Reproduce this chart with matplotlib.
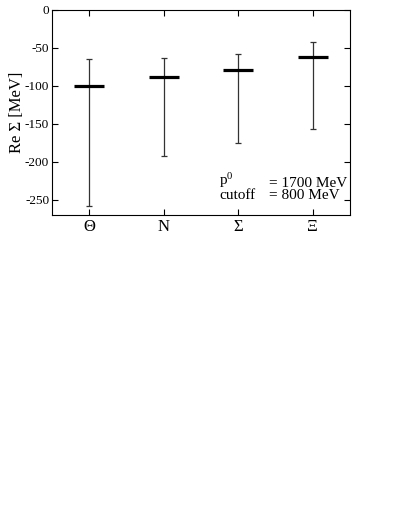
import matplotlib
matplotlib.use("Agg")
import matplotlib.pyplot as plt

plt.rcParams['font.family'] = ['Liberation Serif', 'DejaVu Serif']
plt.rcParams['mathtext.fontset'] = 'custom'
plt.rcParams['mathtext.rm'] = 'Liberation Serif'
plt.rcParams['mathtext.it'] = 'Liberation Serif:italic'

categories = ['Θ', 'N', 'Σ', 'Ξ']
centers = [-100, -88, -79, -62]
upper = [-65, -64, -58, -42]
lower = [-259, -193, -175, -157]
yticks = [0, -50, -100, -150, -200, -250]

fig = plt.figure(figsize=(4.09, 5.29), dpi=100)
ax = fig.add_axes([52/409, 1-214.7/529, 298/409, 205/529])

x = list(range(1, len(categories)+1))
yerr = [[c - l for c, l in zip(centers, lower)], [u - c for c, u in zip(centers, upper)]]
ax.errorbar(x, centers, yerr=yerr, fmt='none', ecolor='#333333', elinewidth=0.9,
            capsize=2.2, capthick=0.9)
ax.plot(x, centers, linestyle='none', marker='_', markersize=21, markeredgewidth=2.3, color='black')

ax.set_xlim(0.5, 4.5)
ax.set_ylim(-270, 0)
ax.set_yticks(yticks)
ax.set_yticklabels([str(t) for t in yticks], fontsize=9.5)
ax.set_xticks(x)
ax.set_xticklabels(categories, fontsize=12)
ax.tick_params(axis='both', direction='in', length=4, width=0.8, top=True, right=True, labelright=False, labeltop=False)
ax.tick_params(axis='y', pad=2)
ax.tick_params(axis='x', pad=3)
for s in ax.spines.values():
    s.set_linewidth(0.8)
ax.set_ylabel('Re Σ [MeV]', fontsize=12)
ax.yaxis.set_label_coords(-0.092, 0.5)

ax.text(0.560, 0.075, 'p$^{0}$\ncutoff', transform=ax.transAxes, fontsize=11,
        va='baseline', ha='left', linespacing=0.95)
ax.text(0.728, 0.075, '= 1700 MeV\n= 800 MeV', transform=ax.transAxes, fontsize=11,
        va='baseline', ha='left', linespacing=0.95)

fig.savefig('out.png', dpi=100)
